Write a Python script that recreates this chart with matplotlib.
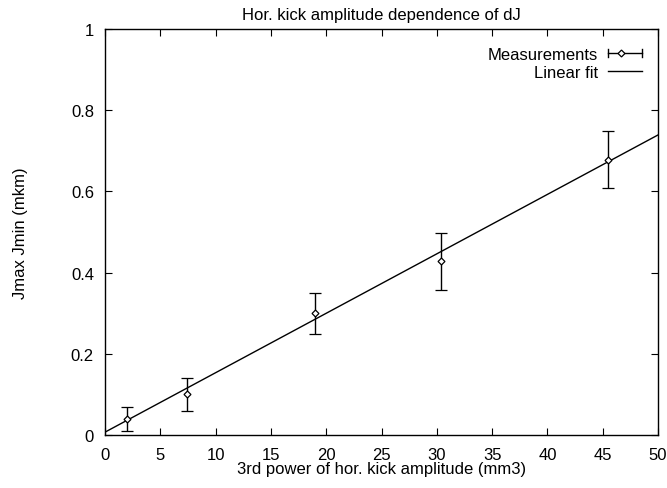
import matplotlib
matplotlib.use("Agg")
import matplotlib.pyplot as plt
from matplotlib.legend_handler import HandlerBase
from matplotlib.lines import Line2D
import numpy as np

plt.rcParams['font.family'] = ['Liberation Sans', 'DejaVu Sans']

x_meas = [2.0, 7.4, 19.0, 30.4, 45.45]
y_meas = [0.040, 0.100, 0.300, 0.428, 0.678]
y_err = [0.030, 0.040, 0.050, 0.070, 0.070]
fit_slope = 0.01464
fit_intercept = 0.007
x_ticks = [0, 5, 10, 15, 20, 25, 30, 35, 40, 45, 50]
y_ticks = [0, 0.2, 0.4, 0.6, 0.8, 1]
y_tick_labels = ['0', '0.2', '0.4', '0.6', '0.8', '1']

FS = 12


class HandlerHorizErr(HandlerBase):
    def create_artists(self, legend, orig_handle, xdescent, ydescent, width,
                       height, fontsize, trans):
        y = height / 2 - ydescent
        x0, x1 = -xdescent, width - xdescent
        cap = 3.0
        arts = [
            Line2D([x0, x1], [y, y], color='black', lw=1.0),
            Line2D([x0, x0], [y - cap, y + cap], color='black', lw=1.0),
            Line2D([x1, x1], [y - cap, y + cap], color='black', lw=1.0),
            Line2D([x0 + 0.38 * (x1 - x0)], [y], marker='D', ms=3.5, mfc='white',
                   mec='black', mew=0.9, ls='none'),
        ]
        for a in arts:
            a.set_transform(trans)
        return arts


fig = plt.figure(figsize=(6.67, 4.89), dpi=100)
ax = fig.add_axes([105/667, 1-436/489, (658-105)/667, (436-30)/489])

eb = ax.errorbar(x_meas, y_meas, yerr=y_err, fmt='D', ms=3.5, mfc='white', mec='black',
                 mew=0.9, color='black', ecolor='black', elinewidth=1.0, capsize=4,
                 capthick=1.0, label='Measurements')
xf = np.array([0, 50])
fit_line, = ax.plot(xf, fit_intercept + fit_slope * xf, color='black', lw=1.0,
                    label='Linear fit')

ax.set_xlim(0, 50)
ax.set_ylim(0, 1)
ax.set_xticks(x_ticks)
ax.set_yticks(y_ticks)
ax.set_yticklabels(y_tick_labels)
ax.tick_params(direction='in', length=5, width=0.8, top=True, right=True,
               labelsize=FS)
ax.tick_params(axis='x', pad=9)
ax.tick_params(axis='y', pad=8)
for s in ax.spines.values():
    s.set_linewidth(1.0)

ax.set_title('Hor. kick amplitude dependence of dJ', fontsize=FS, pad=7)
ax.set_xlabel('3rd power of hor. kick amplitude (mm3)', fontsize=FS, labelpad=-1)
ax.set_ylabel('Jmax Jmin (mkm)', fontsize=FS, labelpad=31)

dummy = Line2D([], [])
leg = ax.legend([dummy, fit_line], ['Measurements', 'Linear fit'],
                handler_map={dummy: HandlerHorizErr()},
                loc='upper right', frameon=False, markerfirst=False, fontsize=FS,
                handlelength=2.04, handletextpad=0.6, borderaxespad=0.0,
                labelspacing=0.16, bbox_to_anchor=(0.983, 0.972))
for t in leg.get_texts():
    t.set_ha('right')

fig.savefig('out.png', dpi=100)
